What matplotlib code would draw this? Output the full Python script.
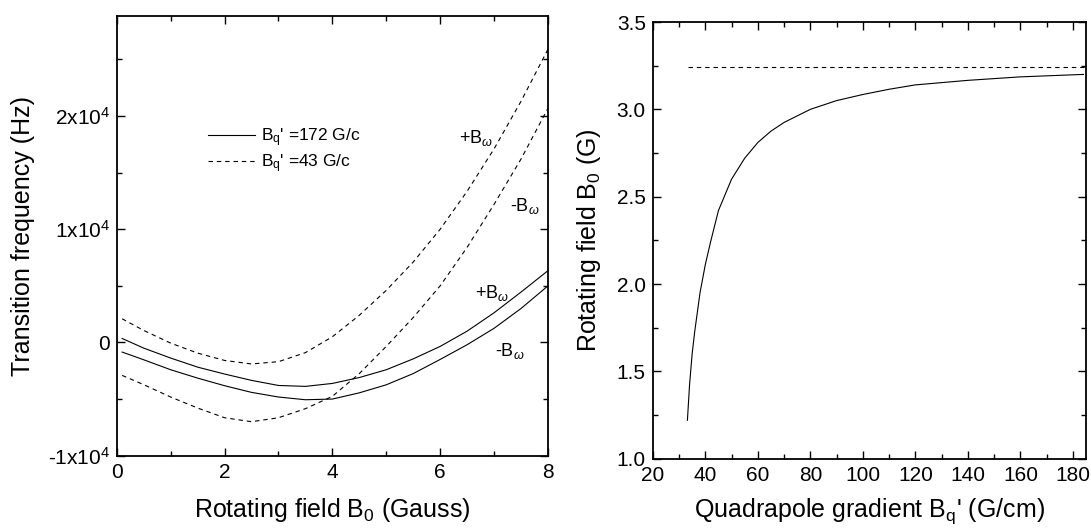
"""
Two-panel figure: transition frequency vs rotating field (left) and
rotating field vs quadrupole gradient (right).
"""

import matplotlib

matplotlib.use("Agg")
import matplotlib.pyplot as plt
from matplotlib.ticker import FixedLocator, FormatStrFormatter, MultipleLocator

plt.rcParams["font.family"] = ["Liberation Sans", "DejaVu Sans"]
plt.rcParams["mathtext.fontset"] = "custom"
plt.rcParams["mathtext.rm"] = "Liberation Sans"
plt.rcParams["mathtext.it"] = "Liberation Sans:italic"

# --- left panel: transition frequency (Hz) vs B0 (Gauss) ---
b0 = [0.1, 0.5, 1.0, 1.5, 2.0, 2.5, 3.0, 3.5, 4.0, 4.5,
      5.0, 5.5, 6.0, 6.5, 7.0, 7.5, 8.0]
f172_plus = [350, -500, -1380, -2180, -2790, -3350, -3800, -3880, -3620, -3100,
             -2410, -1450, -350, 1000, 2620, 4450, 6340]
f172_minus = [-850, -1530, -2410, -3150, -3820, -4410, -4820, -5060, -5000, -4450,
              -3740, -2750, -1500, -200, 1250, 3000, 5000]
f43_plus = [2090, 1060, -60, -940, -1590, -1900, -1700, -900, 500, 2400,
            4600, 7100, 10000, 13350, 17100, 21300, 25900]
f43_minus = [-2910, -3730, -4820, -5790, -6650, -7000, -6650, -5850, -4760, -2750,
             -350, 2200, 5000, 8400, 12200, 16200, 20690]

# --- right panel: B0 (G) vs quadrupole gradient (G/cm) ---
grad = [33.2, 34, 35, 36, 38, 40, 42, 45, 50, 55, 60, 65, 70,
        80, 90, 100, 110, 120, 140, 160, 184]
b0_grad = [1.22, 1.42, 1.60, 1.73, 1.95, 2.11, 2.24, 2.42, 2.60, 2.72, 2.81, 2.875,
           2.925, 3.00, 3.05, 3.085, 3.115, 3.14, 3.166, 3.186, 3.20]
grad_limit = [33.3, 185]
b0_limit = [3.245, 3.245]

DASH = (0, (4, 3.5))
LW = 0.8


def _style(ax):
    for s in ax.spines.values():
        s.set_linewidth(1.3)
    ax.tick_params(which="both", direction="in", top=True, right=True,
                   labelsize=15, pad=5, width=1.0)
    ax.tick_params(which="major", length=6)
    ax.tick_params(which="minor", length=3.5)


def main():
    fig = plt.figure(figsize=(10.91, 5.29), dpi=100)

    ax1 = fig.add_axes([0.107, 0.1386, 0.3953, 0.8306])
    ax1.plot(b0, f172_plus, "-", color="black", lw=LW,
             label="B$\\mathregular{_q}$' =172 G/c")
    ax1.plot(b0, f172_minus, "-", color="black", lw=LW)
    ax1.plot(b0, f43_plus, linestyle=DASH, color="black", lw=LW,
             label="B$\\mathregular{_q}$' =43 G/c")
    ax1.plot(b0, f43_minus, linestyle=DASH, color="black", lw=LW)
    ax1.set_xlim(0, 8)
    ax1.set_ylim(-1e4, 2.88e4)
    ax1.xaxis.set_major_locator(MultipleLocator(2))
    ax1.xaxis.set_minor_locator(MultipleLocator(1))
    yt = [-1e4, 0, 1e4, 2e4]
    ax1.yaxis.set_major_locator(FixedLocator(yt))
    ax1.set_yticklabels(["-1x10$^4$", "0", "1x10$^4$", "2x10$^4$"])
    ax1.yaxis.set_minor_locator(MultipleLocator(5000))
    _style(ax1)
    ax1.set_xlabel("Rotating field B$_0$ (Gauss)", fontsize=18)
    ax1.set_ylabel("Transition frequency (Hz)", fontsize=18)
    ax1.xaxis.set_label_coords(0.5, -0.091)
    ax1.yaxis.set_label_coords(-0.19, 0.5)

    ax1.legend(loc="center left", bbox_to_anchor=(0.211, 0.6946), frameon=False,
               fontsize=12.5, handlelength=2.7, handletextpad=0.35,
               borderpad=0, borderaxespad=0, labelspacing=0.2)

    txt = dict(fontsize=13, va="baseline", ha="left")
    ax1.text(6.34, 17610, "+B$_\\omega$", **txt)
    ax1.text(7.30, 11570, "-B$_\\omega$", **txt)
    ax1.text(6.65, 3920, "+B$_\\omega$", **txt)
    ax1.text(7.01, -1240, "-B$_\\omega$", **txt)

    ax2 = fig.add_axes([0.5983, 0.1329, 0.3972, 0.8255])
    ax2.plot(grad, b0_grad, "-", color="black", lw=LW)
    ax2.plot(grad_limit, b0_limit, linestyle=DASH, color="black", lw=LW)
    ax2.set_xlim(20, 185)
    ax2.set_ylim(1.0, 3.5)
    ax2.xaxis.set_major_locator(MultipleLocator(20))
    ax2.xaxis.set_minor_locator(MultipleLocator(10))
    ax2.yaxis.set_major_locator(MultipleLocator(0.5))
    ax2.yaxis.set_minor_locator(MultipleLocator(0.25))
    ax2.yaxis.set_major_formatter(FormatStrFormatter("%.1f"))
    _style(ax2)
    ax2.set_xlabel("Quadrapole gradient B$\\mathregular{_q}$' (G/cm)", fontsize=18)
    ax2.set_ylabel("Rotating field B$_0$ (G)", fontsize=18)
    ax2.xaxis.set_label_coords(0.5, -0.085)
    ax2.yaxis.set_label_coords(-0.115, 0.5)

    fig.savefig("out.png", dpi=100)
    plt.close(fig)


if __name__ == "__main__":
    main()
